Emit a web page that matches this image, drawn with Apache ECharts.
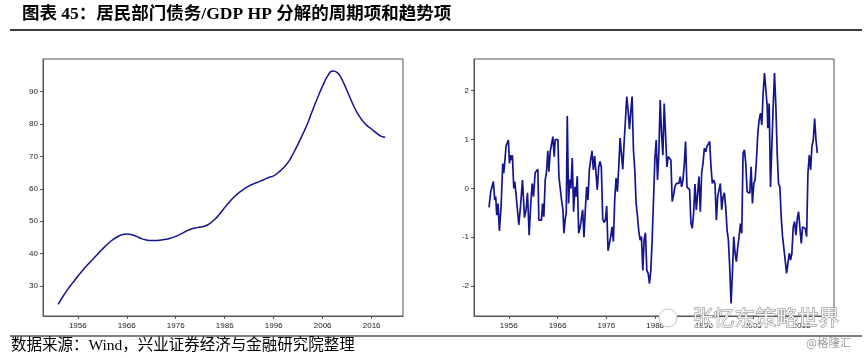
<!DOCTYPE html>
<html>
<head>
<meta charset="utf-8">
<script src="https://cdn.jsdelivr.net/npm/echarts@6.0.0/dist/echarts.min.js"></script>
<style>
html,body{margin:0;padding:0;background:#fff;}
#chart{width:865px;height:358px;}
</style>
</head>
<body>
<div id="chart"></div>
<script>
// ---- data ----
var trendYears = [1952,1953,1954,1955,1956,1957,1958,1959,1960,1961,1962,1963,1964,1965,1966,1967,1968,1969,1970,1971,1972,1973,1974,1975,1976,1977,1978,1979,1980,1981,1982,1983,1984,1985,1986,1987,1988,1989,1990,1991,1992,1993,1994,1995,1996,1997,1998,1999,2000,2001,2002,2003,2004,2005,2006,2007,2008,2009,2010,2011,2012,2013,2014,2015,2016,2017,2018,2018.75];
var trendValues = [24.3,26.8,29.0,31.0,33.0,34.8,36.5,38.1,39.7,41.3,42.8,44.1,45.1,45.8,46.0,45.8,45.3,44.6,44.2,44.0,44.0,44.2,44.4,44.8,45.3,46.0,46.8,47.5,47.9,48.2,48.5,49.3,50.6,52.3,54.2,56.0,57.6,58.9,60.0,60.9,61.6,62.2,62.8,63.5,64.0,65.1,66.5,68.3,70.9,73.9,77.1,80.5,84.5,88.3,91.8,94.8,96.4,95.9,93.6,90.2,86.7,83.6,81.3,79.6,78.4,77.2,76.2,75.9];

var cyclePoints = [
[1951.96,-0.39],[1952.30,-0.07],[1952.64,-0.03],[1952.85,0.14],[1953.12,-0.24],[1953.33,-0.17],[1953.54,-0.55],[1953.81,-0.31],
[1954.08,-0.87],[1954.43,-0.38],[1954.77,0.51],[1954.97,0.31],[1955.18,0.53],[1955.45,0.87],[1955.73,0.89],[1955.93,0.99],
[1956.14,0.51],[1956.34,0.68],[1956.55,0.58],[1956.75,0.68],[1957.03,0.0],[1957.23,0.14],[1957.51,-0.14],[1957.71,-0.14],
[1958.06,-0.75],[1958.40,-0.38],[1958.81,0.17],[1959.22,-0.6],[1959.56,-0.43],[1959.84,-0.09],[1960.18,-0.96],[1960.52,-0.31],
[1960.80,0.10],[1961.07,-0.17],[1961.41,0.32],[1961.69,0.31],[1961.96,0.39],[1962.17,-0.65],[1962.44,-0.62],[1962.71,-0.65],
[1962.92,-0.31],[1963.19,-0.58],[1963.47,0.17],[1963.74,0.34],[1964.01,0.77],[1964.22,0.34],[1964.49,0.75],[1964.77,0.72],
[1965.04,1.06],[1965.32,0.65],[1965.52,1.0],[1965.80,1.0],[1966.07,1.0],[1966.28,0.24],[1966.55,0.27],[1966.82,-0.24],
[1967.10,-0.44],[1967.30,-0.92],[1967.58,-0.62],[1967.78,-0.51],[1967.99,1.48],[1968.26,-0.31],[1968.47,0.18],[1968.74,0.0],
[1969.01,0.62],[1969.29,-0.48],[1969.56,0.03],[1969.77,-0.17],[1970.04,0.25],[1970.32,-0.92],[1970.59,-0.82],[1970.93,-0.79],
[1971.14,-0.44],[1971.41,-1.0],[1971.69,-0.44],[1971.96,0.03],[1972.23,-0.24],[1972.51,0.38],[1972.78,0.58],[1973.06,0.77],
[1973.33,0.38],[1973.60,0.66],[1973.88,0.62],[1974.15,-0.03],[1974.43,0.44],[1974.70,0.55],[1974.97,0.44],[1975.25,-0.62],
[1975.52,-0.7],[1975.80,-0.65],[1976.07,-0.36],[1976.34,-1.28],[1976.62,-1.13],[1976.89,-0.99],[1977.17,-0.79],[1977.44,-1.09],
[1977.71,-0.24],[1977.99,0.21],[1978.26,-0.07],[1978.54,0.44],[1978.81,1.03],[1979.08,1.05],[1979.36,0.39],[1979.63,0.92],
[1979.91,1.4],[1980.18,1.88],[1980.45,1.61],[1980.73,1.21],[1981.00,1.57],[1981.27,1.88],[1981.55,0.79],[1981.82,0.38],
[1982.10,-0.31],[1982.37,-0.57],[1982.64,-0.87],[1982.92,-1.06],[1983.19,-0.99],[1983.47,-1.68],[1983.74,-1.05],[1984.01,-0.91],
[1984.29,-1.68],[1984.56,-1.74],[1984.84,-1.95],[1985.11,-1.68],[1985.38,-1.06],[1985.66,-0.24],[1985.93,0.58],[1986.21,0.99],
[1986.48,0.17],[1986.75,0.72],[1987.03,1.81],[1987.30,1.13],[1987.58,0.68],[1987.85,1.74],[1988.12,1.13],[1988.40,0.44],
[1988.67,0.65],[1988.95,0.65],[1989.22,0.58],[1989.49,-0.27],[1989.77,-0.14],[1990.04,0.03],[1990.32,0.10],[1990.59,0.07],
[1990.86,0.10],[1991.14,0.24],[1991.41,0.03],[1991.69,0.17],[1991.96,0.48],[1992.23,0.96],[1992.51,0.03],[1992.78,0.0],
[1993.06,-0.03],[1993.33,-0.72],[1993.60,-0.82],[1993.88,-0.51],[1994.15,0.09],[1994.43,-0.44],[1994.70,-0.41],[1994.97,0.24],
[1995.25,-0.48],[1995.52,0.31],[1995.80,0.51],[1996.07,0.82],[1996.34,0.75],[1996.62,0.86],[1996.89,0.89],[1997.17,0.96],
[1997.44,0.44],[1997.71,0.10],[1997.99,0.17],[1998.26,0.10],[1998.54,-0.65],[1998.81,-0.17],[1999.08,-0.14],[1999.36,0.10],
[1999.63,-0.44],[1999.91,-0.17],[2000.18,-0.09],[2000.45,-0.38],[2000.73,-0.85],[2001.00,-1.06],[2001.27,-1.61],[2001.55,-2.36],
[2001.82,-1.74],[2002.10,-0.99],[2002.37,-1.33],[2002.64,-1.5],[2002.92,-1.2],[2003.19,-0.99],[2003.47,-0.72],[2003.74,-0.92],
[2004.01,0.72],[2004.29,0.79],[2004.56,0.51],[2004.84,-0.07],[2005.11,-0.07],[2005.38,-0.1],[2005.66,0.44],[2005.93,-0.31],
[2006.21,0.10],[2006.48,0.17],[2006.75,0.58],[2007.03,1.13],[2007.30,1.4],[2007.58,1.54],[2007.85,1.3],[2008.12,1.95],
[2008.40,2.36],[2008.67,2.39],[2008.95,1.68],[2009.08,1.23],[2009.36,1.74],[2009.63,0.03],[2009.90,0.03],[2010.18,1.68],
[2010.45,2.36],[2010.73,1.68],[2011.00,0.72],[2011.27,0.10],[2011.55,0.03],[2011.82,-0.58],[2012.10,-0.99],[2012.37,-0.99],
[2012.64,-1.47],[2012.92,-1.74],[2013.19,-1.54],[2013.47,-1.33],[2013.74,-1.47],[2014.01,-1.33],[2014.29,-0.79],[2014.56,-0.68],
[2014.84,-0.96],[2015.11,-0.62],[2015.38,-0.48],[2015.66,-0.51],[2015.93,-1.13],[2016.21,-0.79],[2016.48,-0.82],[2016.75,-0.82],
[2017.03,-0.99],[2017.30,0.31],[2017.58,0.68],[2017.85,0.38],[2018.12,0.86],[2018.40,0.99],[2018.67,1.43],[2018.95,0.99],
[2019.22,0.72]
];

var xTicks = [1956,1966,1976,1986,1996,2006,2016];
var trendTicks = [30,40,50,60,70,80,90];
var cycleTicks = [-2,-1,0,1,2];

var titleText = '图表 45：居民部门债务/GDP HP 分解的周期项和趋势项';
var sourceText = '数据来源：Wind，兴业证券经济与金融研究院整理';
var watermarkText = '张忆东策略世界';
var watermark2 = '@格隆汇';

// ---- chart ----
var chart = echarts.init(document.getElementById('chart'), null, {renderer:'canvas'});
var lineColor = '#14148e';
var frameColor = '#555';
var labelStyle = {color:'#222', fontSize:8, fontFamily:'Liberation Sans, Arial, sans-serif'};

function xAxisCfg(idx, min, max){
  return {
    type:'value', gridIndex:idx, min:min, max:max,
    axisLine:{show:true, onZero:false, lineStyle:{color:frameColor, width:1}},
    axisTick:{show:true, inside:false, length:3, lineStyle:{color:frameColor}, customValues:xTicks},
    axisLabel:Object.assign({margin:6, customValues:xTicks, formatter:function(v){return String(Math.round(v));}}, labelStyle),
    splitLine:{show:false}
  };
}
function yAxisCfg(idx, min, max, ticks){
  return {
    type:'value', gridIndex:idx, min:min, max:max,
    axisLine:{show:true, onZero:false, lineStyle:{color:frameColor, width:1}},
    axisTick:{show:true, inside:false, length:3, lineStyle:{color:frameColor}, customValues:ticks},
    axisLabel:Object.assign({margin:5, customValues:ticks, formatter:function(v){return String(Math.round(v));}}, labelStyle),
    splitLine:{show:false}
  };
}

var option = {
  backgroundColor:'#fff',
  animation:false,
  grid:[
    {left:43, top:59, width:360, height:257, show:true, borderColor:frameColor, borderWidth:1, backgroundColor:'transparent'},
    {left:474, top:59, width:360, height:257, show:true, borderColor:frameColor, borderWidth:1, backgroundColor:'transparent'}
  ],
  xAxis:[ xAxisCfg(0, 1948.9, 2022.4), xAxisCfg(1, 1948.88, 2022.64) ],
  yAxis:[ yAxisCfg(0, 20.7, 100.1, trendTicks), yAxisCfg(1, -2.615, 2.65, cycleTicks) ],
  series:[
    {type:'line', xAxisIndex:0, yAxisIndex:0, showSymbol:false, smooth:0.5,
     data:trendYears.map(function(y,i){return [y, trendValues[i]];}),
     lineStyle:{color:lineColor, width:1.5}},
    {type:'line', xAxisIndex:1, yAxisIndex:1, showSymbol:false, smooth:false,
     data:cyclePoints, lineStyle:{color:lineColor, width:1.7}}
  ],
  graphic:[
    {type:'text', left:22, top:6, style:{text:titleText, fontSize:17.5, fontWeight:'bold', fill:'#000',
      fontFamily:"'Liberation Serif','Noto Sans CJK SC',serif"}},
    {type:'line', shape:{x1:10, y1:30, x2:862, y2:30}, style:{stroke:'#000', lineWidth:1.5}},
    {type:'line', shape:{x1:10, y1:336, x2:862, y2:336}, style:{stroke:'#000', lineWidth:1.2}},
    {type:'text', left:11, top:338, style:{text:sourceText, fontSize:15.5, fill:'#000',
      fontFamily:"'Liberation Serif','Noto Sans CJK SC',serif"}},
    {type:'text', left:692, top:306, z:100, style:{text:watermarkText, fontSize:21, fill:'#f4f4f4', stroke:'#7c7c7c', lineWidth:0.9,
      fontFamily:"'Noto Sans CJK SC',sans-serif"}},
    {type:'circle', z:100, shape:{cx:668, cy:318, r:9}, style:{fill:'#fff', stroke:'#c4c4c4', lineWidth:1}},
    {type:'text', left:806, top:337, z:100, style:{text:watermark2, fontSize:11.5, fill:'#9a9a9a',
      fontFamily:"'Noto Sans CJK SC',sans-serif"}}
  ]
};
chart.setOption(option);
</script>
</body>
</html>
